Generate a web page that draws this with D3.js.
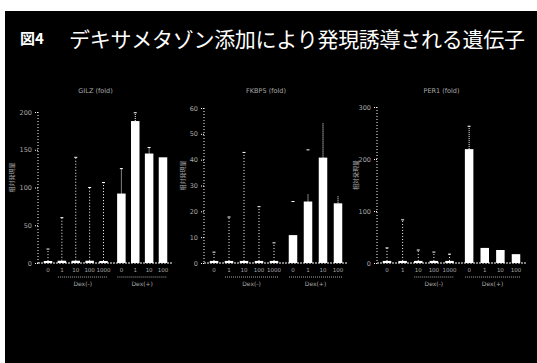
<!DOCTYPE html>
<html>
<head>
<meta charset="utf-8">
<script src="https://cdn.jsdelivr.net/npm/d3@7"></script>
<style>
  body { margin: 0; background: #fff; }
  svg { display: block; }
</style>
</head>
<body>
<svg id="chart" width="537" height="363"></svg>
<script>
// bar categories (5 control + 4 dex treated)
const doses = ["0", "1", "10", "100", "1000", "0", "1", "10", "100"];
const groupLabels = ["Dex(-)", "Dex(+)"];

// panel titles / y tick labels
const panelTitles = ["GILZ  (fold)", "FKBP5  (fold)", "PER1  (fold)"];
const yMax = [200, 60, 300];
const yTicks = [[0, 50, 100, 150, 200], [0, 10, 20, 30, 40, 50, 60], [0, 100, 200, 300]];

// values
const means1 = [2.5, 3, 3, 3, 2.5, 92, 188, 145, 140];
const errs1 = [16, 57, 137, 97, 104, 33, 11, 8, 0];
const means2 = [0.8, 0.8, 0.8, 0.8, 0.8, 10.8, 23.8, 40.8, 23.1];
const errs2 = [3.4, 17, 42, 21, 7, 0, 3, 13.4, 2.7];
const means3 = [4, 4, 4, 4, 4, 219, 29, 25, 17];
const errs3 = [25, 79, 21, 17, 13, 44, 0, 0, 0];

const panels = [
  { means: means1, errs: errs1, axisX: 38, first: 48, last: 163, top: 112 },
  { means: means2, errs: errs2, axisX: 204, first: 214, last: 338, top: 108 },
  { means: means3, errs: errs3, axisX: 377, first: 387, last: 516, top: 107 }
];

const svg = d3.select("#chart");
const base = 263;
const gap = 4;
const dim = "#a8a8a8";

// black scanned slide
svg.append("rect").attr("x", 5).attr("y", 11).attr("width", 532).attr("height", 352).attr("fill", "#000");

svg.append("text")
  .attr("x", 20).attr("y", 44)
  .attr("fill", "#fff")
  .attr("font-family", "Noto Sans CJK JP")
  .attr("font-weight", "bold")
  .attr("font-size", 15)
  .text("図4");

svg.append("text")
  .attr("x", 69).attr("y", 47)
  .attr("fill", "#fff")
  .attr("font-family", "Noto Sans CJK JP")
  .attr("font-size", 21)
  .attr("textLength", 456)
  .text("デキサメタゾン添加により発現誘導される遺伝子");

panels.forEach((p, k) => {
  const g = svg.append("g");
  const step = (p.last - p.first - gap) / 8;
  const x = (i) => p.first + i * step + (i >= 5 ? gap : 0);
  const y = d3.scaleLinear([0, yMax[k]], [base, p.top]);
  const bw = 8.5;

  // y axis, dotted
  g.append("line")
    .attr("x1", p.axisX).attr("x2", p.axisX)
    .attr("y1", y(yMax[k])).attr("y2", base)
    .attr("stroke", "#fff").attr("stroke-width", 1)
    .attr("stroke-dasharray", "1,2");

  const axis = d3.axisLeft(y).tickValues(yTicks[k]).tickSize(3).tickFormat(d3.format("d"));
  const ax = g.append("g").attr("transform", `translate(${p.axisX},0)`).call(axis);
  ax.select(".domain").remove();
  ax.selectAll("line").attr("stroke", "#fff").attr("stroke-dasharray", "1,1");
  ax.selectAll("text")
    .attr("fill", dim).attr("font-size", 6.5)
    .attr("font-family", "DejaVu Sans");

  // x baseline
  g.append("line")
    .attr("x1", p.axisX).attr("x2", x(8) + 10)
    .attr("y1", base).attr("y2", base)
    .attr("stroke", "#fff").attr("stroke-dasharray", "2,1");

  // error bars (dotted)
  const eb = g.selectAll("g.err").data(p.means).join("g").attr("class", "err");
  eb.append("line")
    .attr("x1", (d, i) => x(i)).attr("x2", (d, i) => x(i))
    .attr("y1", (d) => y(d))
    .attr("y2", (d, i) => y(d + p.errs[i]))
    .attr("stroke", "#fff").attr("stroke-width", 1)
    .attr("stroke-dasharray", (d, i) => i < 5 ? "1,2" : "1,1");
  eb.filter((d, i) => p.errs[i] > 0).append("line")
    .attr("x1", (d, i) => x(i) - 1.5).attr("x2", (d, i) => x(i) + 1.5)
    .attr("y1", (d, i) => y(d + p.errs[i]))
    .attr("y2", (d, i) => y(d + p.errs[i]))
    .attr("stroke", "#fff");

  // bars
  g.selectAll("rect.bar").data(p.means).join("rect")
    .attr("class", "bar")
    .attr("x", (d, i) => x(i) - bw / 2)
    .attr("width", bw)
    .attr("y", (d) => Math.min(y(d), base - 2))
    .attr("height", (d) => Math.max(base - y(d), 2))
    .attr("fill", "#fff");

  // dose labels under bars
  g.selectAll("text.dose").data(doses).join("text")
    .attr("class", "dose")
    .attr("x", (d, i) => x(i)).attr("y", base + 9)
    .attr("text-anchor", "middle")
    .attr("fill", dim).attr("font-size", 5.5)
    .attr("font-family", "DejaVu Sans")
    .text((d) => d);

  // group labels
  [[1, 4], [5, 8]].forEach(([a, b], j) => {
    if (k === 2 && j === 0) a = 2;
    g.append("line")
      .attr("x1", x(a) - 4).attr("x2", x(b) + 4)
      .attr("y1", base + 14).attr("y2", base + 14)
      .attr("stroke", dim).attr("stroke-dasharray", "1,1");
    g.append("text")
      .attr("x", (x(a) + x(b)) / 2).attr("y", base + 23)
      .attr("text-anchor", "middle")
      .attr("fill", dim).attr("font-size", 6)
      .attr("font-family", "DejaVu Sans")
      .text(groupLabels[j]);
  });

  // panel title
  g.append("text")
    .attr("x", (p.first + p.last) / 2 - 10).attr("y", 93)
    .attr("text-anchor", "middle")
    .attr("fill", dim).attr("font-size", 6.5)
    .attr("font-family", "DejaVu Sans")
    .text(panelTitles[k]);

  // y label
  g.append("text")
    .attr("transform", `translate(${p.axisX - (k === 0 ? 24 : 19)},${(p.top + base) / 2 - 10}) rotate(-90)`)
    .attr("text-anchor", "middle")
    .attr("fill", dim).attr("font-size", 6)
    .attr("font-family", "Noto Sans CJK JP")
    .text("相対発現量");
});
</script>
</body>
</html>
